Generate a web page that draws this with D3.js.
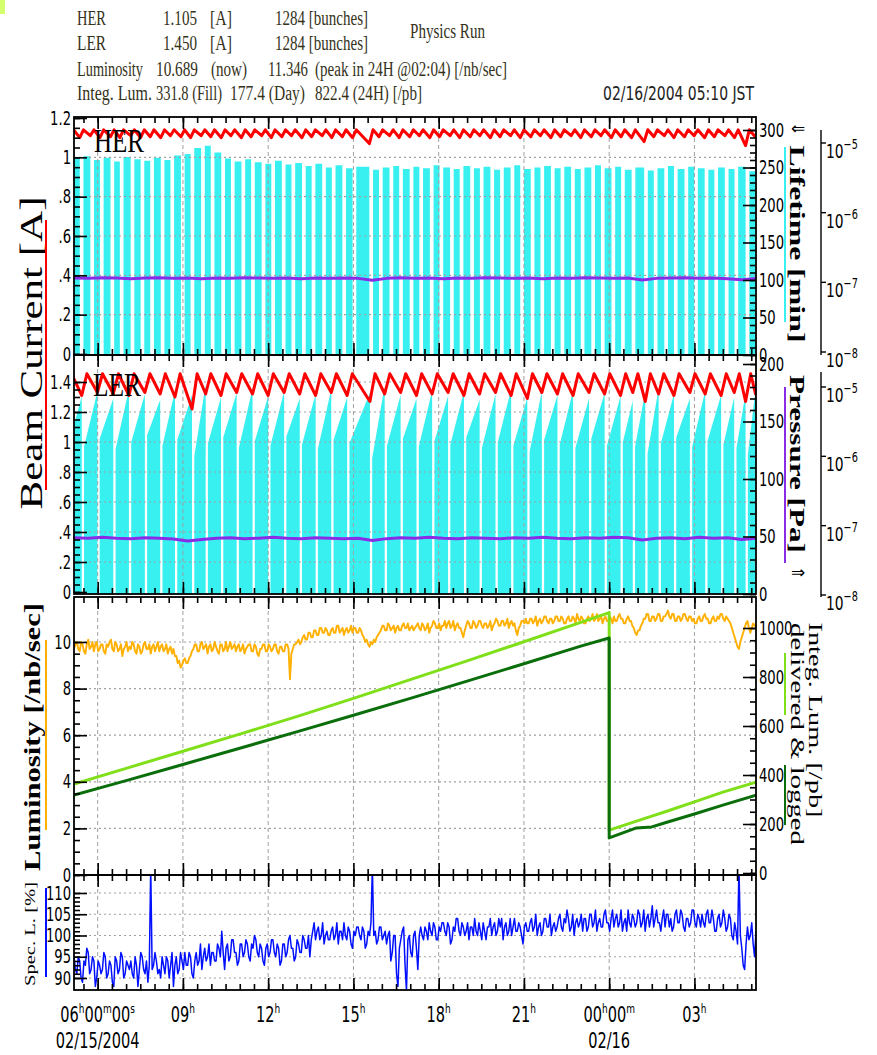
<!DOCTYPE html>
<html>
<head>
<meta charset="utf-8">
<title>KEKB beam history 02/15-02/16 2004</title>
<script src="https://cdn.jsdelivr.net/npm/d3@7/dist/d3.min.js"></script>
<style>
  html, body { margin: 0; padding: 0; background: #fff; }
  svg { display: block; }
</style>
</head>
<body>
<svg id="chart" width="877" height="1055"></svg>
<script>
// ---------- time window (hours counted from 02/15/2004 00:00 JST) ----------
const viewStart = 5 + 10 / 60;
const viewEnd = 29 + 10 / 60;

// ---------- HER ring ----------
// start of each top-up injection [h]
const herInj = [5.02, 5.37, 5.74, 6.08, 6.45, 6.78, 7.16, 7.51, 7.85, 8.22,
  8.56, 8.93, 9.27, 9.64, 9.98, 10.35, 10.69, 11.06, 11.40, 11.77,
  12.11, 12.48, 12.82, 13.19, 13.53, 13.90, 14.24, 14.61, 14.97, 15.56,
  15.90, 16.27, 16.61, 16.98, 17.32, 17.69, 18.03, 18.40, 18.74, 19.11,
  19.45, 19.82, 20.16, 20.53, 20.87, 21.24, 21.58, 21.95, 22.29, 22.66,
  23.00, 23.37, 23.71, 24.08, 24.42, 24.79, 25.23, 25.57, 25.94, 26.28,
  26.65, 26.99, 27.36, 27.70, 28.07, 28.41, 28.80, 29.14];
// current just before each injection [A]
const herTrough = [1.105, 1.10, 1.11, 1.10, 1.105, 1.10, 1.11, 1.10, 1.105, 1.10,
  1.11, 1.105, 1.10, 1.11, 1.105, 1.10, 1.11, 1.10, 1.105, 1.11,
  1.10, 1.105, 1.11, 1.10, 1.105, 1.11, 1.10, 1.105, 1.10, 1.07,
  1.105, 1.11, 1.10, 1.105, 1.11, 1.10, 1.105, 1.11, 1.10, 1.105,
  1.11, 1.10, 1.105, 1.11, 1.10, 1.105, 1.11, 1.10, 1.105, 1.11,
  1.10, 1.105, 1.11, 1.10, 1.105, 1.10, 1.08, 1.105, 1.11, 1.10,
  1.105, 1.11, 1.10, 1.105, 1.11, 1.10, 1.06, 1.105];
// beam lifetime during the coast that follows each injection [min]
const herLife = [262, 265, 260, 263, 258, 264, 261, 259, 263, 260,
  266, 268, 276, 279, 270, 262, 258, 261, 257, 255,
  259, 254, 256, 252, 255, 250, 253, 249, 251, 247,
  250, 252, 248, 251, 249, 253, 250, 248, 252, 249,
  251, 247, 250, 253, 248, 250, 252, 249, 251, 248,
  250, 253, 249, 251, 247, 250, 246, 249, 252, 248,
  251, 249, 247, 250, 248, 251, 245, 250];
const herFill = 1.14;     // top-up target [A]
const herInjLen = 0.13;   // injection length [h]

// ---------- LER ring ----------
const lerInj = [4.90, 5.44, 5.99, 6.55, 7.10, 7.66, 8.20, 8.72, 9.32, 9.80,
  10.34, 10.89, 11.45, 12.00, 12.56, 13.11, 13.67, 14.22, 14.78, 15.58,
  16.10, 16.66, 17.22, 17.77, 18.33, 18.89, 19.44, 20.00, 20.55, 21.12,
  21.63, 22.18, 22.73, 23.29, 23.84, 24.40, 24.83, 25.27, 25.74, 26.28,
  26.84, 27.38, 27.94, 28.40, 28.80, 29.15];
const lerTrough = [1.32, 1.31, 1.33, 1.32, 1.31, 1.33, 1.32, 1.30, 1.22, 1.32,
  1.31, 1.33, 1.32, 1.31, 1.33, 1.32, 1.31, 1.33, 1.31, 1.27,
  1.32, 1.33, 1.31, 1.32, 1.33, 1.31, 1.32, 1.33, 1.31, 1.29,
  1.33, 1.32, 1.31, 1.33, 1.32, 1.31, 1.33, 1.27, 1.32, 1.31,
  1.33, 1.32, 1.31, 1.33, 1.27, 1.32];
// lifetime at the start and at the end of each coast [min]
const lerLifeLo = [130, 128, 135, 126, 132, 138, 129, 134, 120, 131,
  136, 127, 133, 129, 137, 130, 126, 134, 131, 118,
  129, 135, 128, 133, 130, 136, 127, 132, 129, 124,
  134, 130, 127, 135, 129, 132, 128, 122, 131, 136,
  128, 133, 130, 127, 121, 129];
const lerLifeHi = [172, 176, 170, 178, 174, 169, 177, 173, 182, 171,
  175, 179, 172, 176, 170, 174, 178, 171, 175, 181,
  173, 170, 177, 172, 176, 169, 174, 178, 171, 176,
  173, 177, 170, 175, 172, 168, 176, 179, 174, 170,
  177, 173, 171, 175, 178, 172];
const lerFill = 1.455;
const lerInjLen = 0.18;
const lerLifeGap = 0.08;  // lifetime not evaluated right after injection [h]

// ---------- vacuum pressure, every half hour from viewStart ----------
const pressStep = 0.5;
const herPressE7 = [1.15, 1.14, 1.16, 1.15, 1.13, 1.15, 1.16, 1.14, 1.15, 1.13,
  1.15, 1.14, 1.16, 1.15, 1.14, 1.15, 1.13, 1.15, 1.14, 1.15,
  1.14, 1.07, 1.14, 1.16, 1.14, 1.15, 1.13, 1.15, 1.14, 1.16,
  1.15, 1.14, 1.15, 1.13, 1.15, 1.14, 1.16, 1.15, 1.14, 1.15,
  1.08, 1.14, 1.15, 1.16, 1.14, 1.15, 1.13, 1.09, 1.14];      // x 1e-7 Pa
const lerPressE8 = [6.7, 6.6, 6.8, 6.6, 6.5, 6.7, 6.6, 6.4, 6.0, 6.3,
  6.6, 6.7, 6.5, 6.6, 6.8, 6.6, 6.5, 6.7, 6.6, 6.5,
  6.6, 6.1, 6.5, 6.7, 6.6, 6.8, 6.6, 6.5, 6.7, 6.6,
  6.5, 6.7, 6.6, 6.8, 6.6, 6.5, 6.7, 6.6, 6.8, 6.7,
  6.2, 6.6, 6.7, 6.5, 6.8, 6.6, 6.7, 6.3, 6.6];               // x 1e-8 Pa

// ---------- luminosity [/nb/sec] and specific luminosity [%], every 3 min ----------
const sampleStep = 0.05;
const lumValues = [
  9.7, 9.9, 10.0, 9.7, 9.6, 10.0, 9.9, 9.6, 9.5, 9.9, 10.1, 9.7, 9.8, 10.0, 9.6, 9.9, 10.0, 9.6, 9.7, 9.9,
  9.9, 9.6, 9.5, 9.9, 9.8, 10.0, 10.1, 9.7, 9.6, 10.0, 9.9, 9.6, 9.7, 9.9, 9.4, 9.7, 9.8, 10.0, 9.6, 9.8,
  9.7, 10.0, 9.9, 9.6, 9.5, 9.9, 9.8, 9.5, 9.6, 9.9, 10.0, 9.7, 9.7, 9.9, 9.5, 9.8, 9.9, 9.6, 9.8, 10.0,
  9.6, 9.8, 9.9, 9.6, 9.7, 9.9, 9.5, 9.7, 9.8, 9.5, 9.7, 9.4, 9.4, 9.1, 9.2, 8.9, 9.0, 9.2, 9.3, 9.1,
  9.1, 9.3, 9.4, 9.6, 9.7, 9.9, 9.9, 9.6, 9.6, 9.9, 10.0, 9.7, 9.8, 9.9, 9.5, 9.8, 9.9, 9.6, 9.7, 10.0,
  9.8, 9.6, 9.5, 9.9, 9.9, 9.6, 9.7, 10.0, 9.6, 9.8, 10.0, 9.7, 9.8, 9.9, 9.6, 9.8, 9.9, 9.6, 9.7, 9.9,
  9.5, 9.7, 9.8, 9.9, 9.9, 9.6, 9.6, 9.9, 9.8, 9.5, 9.4, 9.7, 9.7, 9.9, 9.9, 9.6, 9.6, 9.9, 9.8, 9.6,
  9.7, 9.9, 9.9, 9.6, 9.5, 9.8, 9.8, 9.6, 9.6, 9.9, 9.9, 9.7, 8.4, 9.5, 9.7, 9.9, 9.9, 10.0, 10.1, 9.9,
  10.0, 10.2, 10.3, 10.1, 10.1, 10.4, 10.4, 10.2, 10.2, 10.5, 10.5, 10.3, 10.3, 10.6, 10.6, 10.4, 10.4, 10.6, 10.5, 10.3,
  10.3, 10.5, 10.6, 10.4, 10.4, 10.7, 10.7, 10.4, 10.5, 10.6, 10.3, 10.5, 10.6, 10.4, 10.5, 10.7, 10.4, 10.6, 10.6, 10.4,
  10.4, 10.6, 10.5, 10.3, 10.2, 10.0, 10.1, 9.9, 9.8, 10.0, 9.9, 10.1, 10.0, 10.2, 10.3, 10.4, 10.5, 10.7, 10.7, 10.5,
  10.5, 10.8, 10.7, 10.5, 10.6, 10.7, 10.4, 10.6, 10.7, 10.5, 10.5, 10.7, 10.8, 10.6, 10.6, 10.8, 10.5, 10.6, 10.7, 10.5,
  10.6, 10.7, 10.8, 10.6, 10.5, 10.8, 10.7, 10.5, 10.6, 10.8, 10.4, 10.6, 10.7, 10.9, 10.8, 10.6, 10.6, 10.8, 10.5, 10.7,
  10.7, 10.9, 10.6, 10.8, 10.9, 10.6, 10.7, 10.9, 10.5, 10.7, 10.8, 10.6, 10.6, 10.4, 10.2, 10.5, 10.7, 10.9, 10.8, 10.6,
  10.6, 10.9, 10.8, 10.6, 10.7, 10.9, 10.9, 10.7, 10.6, 10.8, 10.8, 10.6, 10.7, 10.9, 10.5, 10.7, 10.8, 11.0, 10.9, 10.7,
  10.7, 10.9, 10.9, 10.7, 10.8, 11.0, 10.6, 10.8, 10.9, 10.7, 10.8, 10.5, 10.3, 10.6, 10.7, 10.9, 10.9, 10.8, 11.0, 10.8,
  10.8, 11.0, 11.0, 10.8, 10.9, 11.1, 10.7, 10.9, 11.0, 10.8, 10.9, 11.1, 11.1, 10.9, 10.8, 11.0, 11.0, 10.8, 10.9, 11.1,
  11.1, 10.9, 10.9, 11.1, 11.0, 10.8, 10.8, 11.0, 11.1, 10.9, 10.9, 11.1, 11.0, 10.8, 11.2, 11.0, 10.9, 11.1, 11.0, 10.8,
  10.8, 11.0, 11.1, 10.9, 11.0, 11.2, 10.9, 11.0, 11.2, 10.9, 11.0, 11.1, 10.8, 11.0, 11.1, 10.9, 10.9, 11.1, 11.0, 10.8,
  11.1, 10.9, 10.9, 11.1, 11.2, 11.0, 11.0, 10.8, 10.8, 11.0, 11.1, 10.9, 10.9, 10.7, 10.6, 10.4, 10.3, 10.5, 10.5, 10.7,
  10.8, 11.0, 11.0, 11.2, 11.2, 10.9, 10.9, 11.1, 11.1, 10.9, 11.0, 11.2, 11.2, 10.9, 10.9, 11.1, 11.1, 11.2, 11.35, 11.1,
  11.0, 11.2, 11.2, 10.9, 10.9, 11.1, 11.1, 10.9, 11.0, 11.2, 11.2, 11.0, 10.9, 11.1, 11.1, 10.9, 11.0, 10.8, 10.8, 11.0,
  11.1, 10.9, 10.9, 11.1, 11.2, 11.0, 11.0, 10.8, 10.8, 11.0, 11.1, 10.9, 10.9, 11.1, 11.0, 11.2, 11.2, 11.0, 10.9, 11.1,
  11.0, 10.9, 10.8, 10.6, 10.4, 10.2, 10.0, 9.8, 9.7, 10.0, 10.2, 10.4, 10.6, 10.8, 10.9, 10.6, 10.4, 10.6, 10.8, 10.7, 10.69];
const specValues = [
  95, 92, 91, 95, 94, 90, 89, 94, 93, 97, 96, 91, 92, 95, 94, 88, 90, 94, 93, 91,
  92, 96, 95, 90, 91, 94, 93, 89, 88, 95, 94, 91, 92, 96, 95, 90, 91, 94, 93, 92,
  94, 91, 90, 95, 93, 88, 92, 96, 95, 92, 91, 94, 89, 93, 116, 92, 93, 96, 94, 91,
  92, 90, 95, 93, 91, 95, 94, 90, 93, 96, 88, 93, 95, 91, 92, 96, 94, 92, 96, 93,
  93, 96, 95, 91, 90, 94, 96, 93, 94, 98, 92, 95, 97, 94, 95, 98, 93, 96, 96, 94,
  94, 98, 97, 95, 101, 96, 92, 97, 98, 94, 95, 99, 99, 96, 96, 93, 94, 98, 98, 95,
  96, 99, 98, 95, 94, 98, 97, 100, 99, 96, 95, 98, 97, 94, 93, 97, 98, 95, 96, 99,
  99, 96, 95, 98, 97, 93, 94, 98, 98, 95, 96, 99, 100, 97, 97, 94, 95, 99, 98, 96,
  96, 100, 99, 97, 97, 100, 95, 99, 101, 103, 99, 101, 102, 99, 100, 103, 98, 100, 101, 99,
  99, 101, 102, 99, 100, 103, 98, 101, 101, 99, 103, 100, 99, 102, 101, 98, 97, 101, 100, 102,
  102, 100, 99, 102, 101, 97, 98, 101, 100, 103, 116, 100, 101, 98, 99, 102, 102, 99, 100, 101,
  98, 100, 101, 94, 96, 100, 100, 91, 88, 97, 99, 101, 102, 93, 87, 99, 100, 96, 95, 100,
  101, 97, 92, 100, 102, 100, 99, 102, 101, 99, 103, 101, 100, 103, 102, 99, 99, 102, 101, 103,
  103, 101, 100, 103, 102, 98, 99, 102, 101, 104, 104, 101, 100, 103, 102, 100, 101, 103, 99, 102,
  102, 100, 104, 101, 100, 103, 101, 99, 103, 101, 99, 102, 102, 104, 100, 102, 103, 100, 101, 104,
  102, 104, 99, 102, 103, 100, 101, 104, 100, 102, 104, 101, 101, 103, 102, 100, 98, 102, 103, 101,
  101, 103, 104, 101, 102, 105, 100, 102, 103, 100, 101, 104, 104, 102, 102, 105, 100, 102, 103, 101,
  102, 104, 105, 102, 101, 104, 103, 106, 104, 101, 102, 105, 100, 103, 104, 102, 103, 105, 101, 104,
  104, 101, 102, 105, 105, 102, 103, 106, 101, 103, 104, 102, 102, 105, 106, 103, 103, 101, 104, 106,
  102, 104, 105, 102, 103, 106, 101, 103, 104, 101, 106, 103, 102, 105, 104, 102, 103, 106, 105, 102,
  103, 106, 101, 104, 105, 102, 104, 107, 102, 104, 106, 103, 103, 101, 104, 106, 102, 105, 105, 102,
  104, 101, 102, 105, 106, 103, 103, 106, 105, 102, 101, 104, 104, 102, 103, 106, 106, 103, 102, 105,
  104, 102, 105, 103, 102, 105, 106, 103, 103, 106, 104, 101, 101, 104, 105, 102, 103, 106, 104, 101,
  102, 105, 104, 100, 99, 103, 101, 98, 116, 100, 97, 93, 92, 98, 102, 99, 100, 103, 98, 95, 101];

// ---------- integrated luminosity [/pb] (counter reset at 00:00) ----------
const integTimes = [5.17, 7, 9, 11, 13, 15, 17, 19, 21, 23, 24, 24, 24.96, 25.5, 26, 27, 28, 29.17];
const integDelivered = [363, 427, 497, 567, 638, 713, 789, 866, 944, 1023, 1063, 175, 212, 232, 251, 290, 330, 371];
const integLogged = [318, 377, 443, 509, 576, 644, 713, 783, 854, 926, 959, 143, 184, 188, 206, 241, 277, 318];

// ---------- tick values and labels ----------
const herCurTicks = [0, 0.2, 0.4, 0.6, 0.8, 1, 1.2];
const lerCurTicks = [0, 0.2, 0.4, 0.6, 0.8, 1, 1.2, 1.4];
const herLifeTicks = [0, 50, 100, 150, 200, 250, 300];
const lerLifeTicks = [0, 50, 100, 150, 200];
const pressTicks = [1e-5, 1e-6, 1e-7, 1e-8];
const lumTicks = [0, 2, 4, 6, 8, 10];
const integTicks = [0, 200, 400, 600, 800, 1000];
const specTicks = [90, 95, 100, 105, 110];
const timeLabels = [['06', 'h', '00', 'm', '00', 's'], ['09', 'h'], ['12', 'h'], ['15', 'h'],
  ['18', 'h'], ['21', 'h'], ['00', 'h', '00', 'm'], ['03', 'h']];
const dateLabels = ['02/15/2004', '', '', '', '', '', '02/16', ''];

// ---------- status header ----------
const headerRows = [
  {y: 25, cells: [['HER', 77, 29], ['1.105', 163, 34], ['[A]', 210, 22], ['1284 [bunches]', 275, 93]]},
  {y: 50, cells: [['LER', 77, 29], ['1.450', 163, 34], ['[A]', 210, 22], ['1284 [bunches]', 275, 93]]},
  {y: 76, cells: [['Luminosity', 77, 66], ['10.689', 156, 42], ['(now)', 211, 36], ['11.346', 268, 40],
    ['(peak in 24H @02:04) [/nb/sec]', 315, 192]]},
  {y: 100, cells: [['Integ. Lum.', 77, 75], ['331.8 (Fill)', 156, 66], ['177.4 (Day)', 230, 75],
    ['822.4 (24H) [/pb]', 315, 107]]}
];

// ================= drawing =================
const SANS = "'Liberation Sans Narrow','DejaVu Sans Condensed','Liberation Sans',sans-serif";
const SERIF = "'Liberation Serif','DejaVu Serif',serif";
const NARROW = 0.77;   // horizontal squeeze for the condensed sans lettering
const CYAN = '#38f0f0', RED = '#ff0000', PURPLE = '#8a2ce6', ORANGE = '#ffb000',
  LGREEN = '#7fe01a', DGREEN = '#0a6e0a', BLUE = '#0010ff', GRID = '#a0a0a0';

const svg = d3.select('#chart');
const hourBase = new Date(2004, 1, 15).getTime();
const at = h => new Date(hourBase + h * 3600000);

const x = d3.scaleTime().domain([at(viewStart), at(viewEnd)]).range([74, 756]);
const frame = {
  her: {top: 117, bottom: 355},
  ler: {top: 355, bottom: 594},
  lum: {top: 597, bottom: 875},
  spec: {top: 875, bottom: 990}
};
const yHer = d3.scaleLinear().domain([0, 1.2]).range([354, 118]);
const yHerLife = d3.scaleLinear().domain([0, 300]).range([355, 130]);
const yHerP = d3.scaleLog().domain([1e-8, 1e-5]).range([352, 143]);
const yLer = d3.scaleLinear().domain([0, 1.6]).range([592, 352]);
const yLerLife = d3.scaleLinear().domain([0, 200]).range([594, 364]);
const yLerP = d3.scaleLog().domain([1e-8, 1e-5]).range([595, 387]);
const yLum = d3.scaleLinear().domain([0, 10]).range([875, 642]);
const yInt = d3.scaleLinear().domain([0, 1000]).range([873, 628]);
const ySpec = d3.scaleLinear().domain([90, 110]).range([978, 893]);

// condensed lettering: scale each text horizontally about its anchor
function squeeze(sel, k) {
  sel.each(function () {
    const t = d3.select(this);
    const ax = +t.attr('x') || 0;
    t.attr('transform', `translate(${ax},0) scale(${k},1) translate(${-ax},0)`);
  });
}

const defs = svg.append('defs');
Object.entries(frame).forEach(([k, f]) => {
  defs.append('clipPath').attr('id', 'clip-' + k).append('rect')
    .attr('x', 74).attr('y', f.top).attr('width', 682).attr('height', f.bottom - f.top);
});
const plot = k => svg.append('g').attr('clip-path', `url(#clip-${k})`);

const majorT = d3.timeHour.every(3).range(at(viewStart), at(viewEnd));
const minorT = d3.timeMinute.every(30).range(at(viewStart), at(viewEnd));

function grid(g, f, yScale, values) {
  g.selectAll(null).data(majorT).join('line')
    .attr('x1', d => x(d)).attr('x2', d => x(d)).attr('y1', f.top).attr('y2', f.bottom)
    .attr('stroke', GRID).attr('stroke-width', 1).attr('stroke-dasharray', '4,3');
  g.selectAll(null).data(values).join('line')
    .attr('x1', 74).attr('x2', 756).attr('y1', d => yScale(d)).attr('y2', d => yScale(d))
    .attr('stroke', GRID).attr('stroke-width', 1.2).attr('stroke-dasharray', '2,3');
}

function drawLine(g, pts, ys, color, width) {
  g.append('path').datum(pts).attr('d', d3.line().x(d => x(at(d[0]))).y(d => ys(d[1])))
    .attr('fill', 'none').attr('stroke', color).attr('stroke-width', width)
    .attr('stroke-linejoin', 'round');
}

// ---- HER panel ----
{
  const f = frame.her, g = plot('her');
  const coasts = herInj.map((t, i) => ({
    from: t + herInjLen, to: i + 1 < herInj.length ? herInj[i + 1] : viewEnd + 1, life: herLife[i]
  }));
  g.selectAll(null).data(coasts).join('rect')
    .attr('x', d => x(at(d.from))).attr('width', d => Math.max(0, x(at(d.to)) - x(at(d.from))))
    .attr('y', d => yHerLife(d.life)).attr('height', d => yHerLife(0) - yHerLife(d.life))
    .attr('fill', CYAN);
  grid(g, f, yHer, [0.2, 0.4, 0.6, 0.8, 1]);
  drawLine(g, herPressE7.map((v, k) => [viewStart + k * pressStep, v * 1e-7]), yHerP, PURPLE, 3);
  drawLine(g, herInj.flatMap((t, i) => [[t, herTrough[i]], [t + herInjLen, herFill]]), yHer, RED, 3);
  svg.append('text').attr('x', 94).attr('y', 152).text('HER')
    .attr('font-family', SERIF).attr('font-size', 34).attr('textLength', 50)
    .attr('lengthAdjust', 'spacingAndGlyphs').attr('fill', '#000');
}

// ---- LER panel ----
{
  const f = frame.ler, g = plot('ler');
  const coasts = lerInj.map((t, i) => ({
    from: t + lerLifeGap, to: i + 1 < lerInj.length ? lerInj[i + 1] : viewEnd + 1,
    lo: lerLifeLo[i], hi: lerLifeHi[i]
  }));
  const ramp = d3.area().x(d => x(at(d[0]))).y0(yLerLife(0)).y1(d => yLerLife(d[1]));
  g.selectAll(null).data(coasts).join('path')
    .attr('d', d => ramp([[d.from, d.lo], [d.to, d.hi]])).attr('fill', CYAN);
  grid(g, f, yLer, [0.2, 0.4, 0.6, 0.8, 1, 1.2, 1.4]);
  drawLine(g, lerPressE8.map((v, k) => [viewStart + k * pressStep, v * 1e-8]), yLerP, PURPLE, 3);
  drawLine(g, lerInj.flatMap((t, i) => [[t, lerTrough[i]], [t + lerInjLen, lerFill]]), yLer, RED, 3);
  svg.append('text').attr('x', 93).attr('y', 396).text('LER')
    .attr('font-family', SERIF).attr('font-size', 34).attr('textLength', 48)
    .attr('lengthAdjust', 'spacingAndGlyphs').attr('fill', '#000');
}

// ---- luminosity panel ----
{
  const f = frame.lum, g = plot('lum');
  grid(g, f, yLum, [2, 4, 6, 8, 10]);
  drawLine(g, lumValues.map((v, i) => [viewStart + i * sampleStep, v]), yLum, ORANGE, 1.9);
  drawLine(g, integTimes.map((t, i) => [t, integDelivered[i]]), yInt, LGREEN, 3);
  drawLine(g, integTimes.map((t, i) => [t, integLogged[i]]), yInt, DGREEN, 3);
}

// ---- specific luminosity panel ----
{
  const f = frame.spec, g = plot('spec');
  grid(g, f, ySpec, [90, 95, 100, 105, 110]);
  drawLine(g, specValues.map((v, i) => [viewStart + i * sampleStep, v]), ySpec, BLUE, 1.5);
}

// ---- frames and axes ----
function styleAxis(g, size) {
  g.selectAll('.domain').remove();
  g.selectAll('line').attr('stroke', '#000').attr('stroke-width', 1.6);
  g.selectAll('text').attr('font-family', SANS).attr('font-size', size || 19).attr('fill', '#000')
    .call(squeeze, NARROW);
}
const fmtCur = d => { const s = String(+d.toFixed(1)); return s.startsWith('0.') ? s.slice(1) : s; };

function yAxis(side, pos, scale, major, minorStep, fmt) {
  const [lo, hi] = d3.extent(major);
  const minor = d3.range(Math.round((hi - lo) / minorStep) + 1).map(i => lo + i * minorStep);
  const mk = side === 'left' ? d3.axisLeft : d3.axisRight;
  svg.append('g').attr('transform', `translate(${pos},0)`)
    .call(mk(scale).tickValues(minor).tickSizeInner(-6).tickSizeOuter(0).tickFormat(''))
    .call(styleAxis);
  svg.append('g').attr('transform', `translate(${pos},0)`)
    .call(mk(scale).tickValues(major).tickSizeInner(-13).tickSizeOuter(0).tickPadding(3).tickFormat(fmt))
    .call(g => styleAxis(g, 19));
}

Object.values(frame).forEach(f => {
  svg.append('rect').attr('x', 74).attr('y', f.top).attr('width', 682).attr('height', f.bottom - f.top)
    .attr('fill', 'none').attr('stroke', '#000').attr('stroke-width', 1.8);
  [[d3.axisBottom, f.bottom], [d3.axisTop, f.top]].forEach(([mk, y]) => {
    svg.append('g').attr('transform', `translate(0,${y})`)
      .call(mk(x).tickValues(minorT).tickSizeInner(-6).tickSizeOuter(0).tickFormat(''))
      .call(styleAxis);
    svg.append('g').attr('transform', `translate(0,${y})`)
      .call(mk(x).tickValues(majorT).tickSizeInner(-12).tickSizeOuter(0).tickFormat(''))
      .call(styleAxis);
  });
});

yAxis('left', 74, yHer, herCurTicks, 0.05, fmtCur);
yAxis('left', 74, yLer, lerCurTicks, 0.05, fmtCur);
yAxis('left', 74, yLum, lumTicks, 0.5, d => String(d));
yAxis('left', 74, ySpec, specTicks, 1, d => String(d));
yAxis('right', 756, yHerLife, herLifeTicks, 10, d => String(d));
yAxis('right', 756, yLerLife, lerLifeTicks, 10, d => String(d));
yAxis('right', 756, yInt, integTicks, 50, d => String(d));

// ---- pressure log axes ----
[[yHerP, 130, 355], [yLerP, 372, 597]].forEach(([ys, y0, y1]) => {
  const g = svg.append('g');
  g.append('line').attr('x1', 821).attr('x2', 821).attr('y1', y0).attr('y2', y1)
    .attr('stroke', '#000').attr('stroke-width', 1.4);
  g.selectAll(null).data(pressTicks).join('line')
    .attr('x1', 821).attr('x2', 826).attr('y1', d => ys(d)).attr('y2', d => ys(d))
    .attr('stroke', '#000').attr('stroke-width', 1.4);
  const t = g.selectAll(null).data(pressTicks).join('text')
    .attr('x', 826).attr('y', d => ys(d) + 15)
    .attr('font-family', SANS).attr('font-size', 20).attr('fill', '#000');
  t.append('tspan').text('10');
  t.append('tspan').attr('dy', -9).attr('font-size', 14).text(d => '\u2212' + Math.round(-Math.log10(d)));
  squeeze(t, NARROW);
});

// ---- time labels ----
majorT.forEach((d, i) => {
  const t = svg.append('text').attr('x', x(d)).attr('y', 1022).attr('text-anchor', 'middle')
    .attr('font-family', SANS).attr('font-size', 21).attr('fill', '#000');
  timeLabels[i].forEach((p, j) => {
    const sup = j % 2 === 1;
    t.append('tspan').text(p)
      .attr('dy', sup ? -9 : (j > 0 ? 9 : 0))
      .attr('font-size', sup ? 13 : 21);
  });
  squeeze(t, NARROW);
  if (dateLabels[i]) {
    svg.append('text').attr('x', x(d)).attr('y', 1048).attr('text-anchor', 'middle')
      .attr('font-family', SANS).attr('font-size', 21).attr('fill', '#000').text(dateLabels[i])
      .call(squeeze, NARROW);
  }
});

// ---- axis titles and colour keys ----
function title(txt, tx, ty, rot, opts) {
  svg.append('text').attr('transform', `translate(${tx},${ty}) rotate(${rot})`)
    .attr('text-anchor', 'middle').attr('font-family', opts.font || SERIF)
    .attr('font-size', opts.size).attr('font-weight', opts.weight || 'normal')
    .attr('textLength', opts.len).attr('lengthAdjust', 'spacingAndGlyphs')
    .attr('fill', '#000').text(txt);
}
title('Beam Current [A]', 42, 353, -90, {size: 32, len: 313});
title('Luminosity [/nb/sec]', 40, 737, -90, {size: 24, weight: 'bold', len: 268});
title('Spec. L. [%]', 35, 934, -90, {size: 15, len: 104});
title('Lifetime [min]', 790, 244, 90, {size: 21, weight: 'bold', len: 197});
title('Pressure [Pa]', 790, 464, 90, {size: 21, weight: 'bold', len: 178});
title('Integ. Lum. [/pb]', 809, 720, 90, {size: 18, len: 195});
title('delivered & logged', 791, 734, 90, {size: 18, len: 222});
svg.append('text').attr('x', 798).attr('y', 134).attr('text-anchor', 'middle')
  .attr('font-family', "'DejaVu Sans',sans-serif").attr('font-size', 17).text('\u21d0');
svg.append('text').attr('x', 798).attr('y', 578).attr('text-anchor', 'middle')
  .attr('font-family', "'DejaVu Sans',sans-serif").attr('font-size', 17).text('\u21d2');

[[46, 220, 490, RED], [46, 640, 830, ORANGE], [46, 888, 977, BLUE], [785, 147, 322, CYAN],
 [785, 387, 563, PURPLE], [785, 653, 715, LGREEN], [785, 765, 825, DGREEN]].forEach(([lx, a, b, c]) => {
  svg.append('line').attr('x1', lx).attr('x2', lx).attr('y1', a).attr('y2', b)
    .attr('stroke', c).attr('stroke-width', 2);
});

// ---- header ----
svg.append('rect').attr('x', 0).attr('y', 0).attr('width', 5).attr('height', 14).attr('fill', '#d4ff6a');
headerRows.forEach(r => r.cells.forEach(([txt, cx, w]) => {
  svg.append('text').attr('x', cx).attr('y', r.y).attr('font-family', SERIF).attr('font-size', 20)
    .attr('textLength', w).attr('lengthAdjust', 'spacingAndGlyphs').attr('fill', '#35321a').text(txt);
}));
svg.append('text').attr('x', 410).attr('y', 38).attr('font-family', SERIF).attr('font-size', 20)
  .attr('textLength', 75).attr('lengthAdjust', 'spacingAndGlyphs').attr('fill', '#35321a').text('Physics Run');
svg.append('text').attr('x', 603).attr('y', 100).attr('font-family', SANS).attr('font-size', 20)
  .attr('textLength', 151).attr('lengthAdjust', 'spacingAndGlyphs').attr('fill', '#222').text('02/16/2004 05:10 JST');
</script>
</body>
</html>
